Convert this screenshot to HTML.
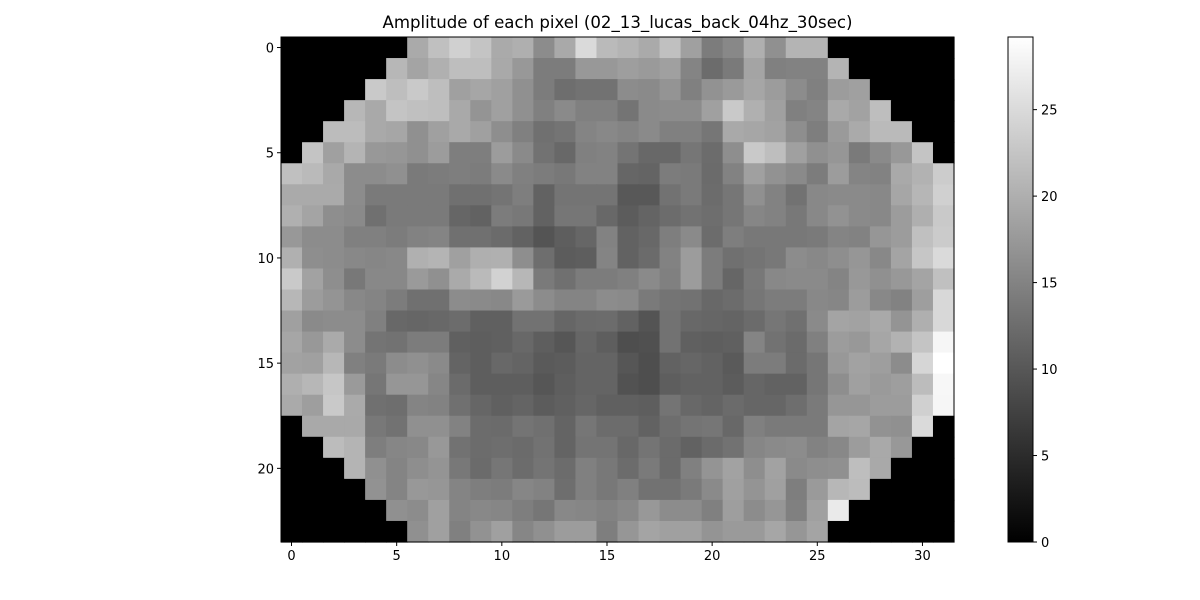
<!DOCTYPE html>
<html><head><meta charset="utf-8"><style>
html,body{margin:0;padding:0;background:#fff;width:1200px;height:600px;overflow:hidden}
svg text{font-family:"DejaVu Sans","Liberation Sans",sans-serif;fill:#000}
</style></head><body>
<svg id="chart" width="1200" height="600" xmlns="http://www.w3.org/2000/svg">
<text x="617.5" y="28" font-size="16.6" text-anchor="middle">Amplitude of each pixel (02_13_lucas_back_04hz_30sec)</text>
<g id="cells"></g>
<g id="axes"></g>
<g id="cbar"></g>
</svg>
<script>
const amplitudes = [
[0,0,0,0,0,0,19.5,22,23.8,22.5,19.5,20,16,19.3,25,21.3,20.6,19.5,22,18.3,14.2,15.6,20,16.5,20.6,20.6,0,0,0,0,0,0],
[0,0,0,0,0,21,18.8,20.2,21.8,21.8,19.3,17.4,14.2,14.2,17.4,17.4,18.1,17.6,18.3,15.1,12.4,14,18.8,14.7,14.9,14.9,20.6,0,0,0,0,0],
[0,0,0,0,23,21.8,23,21.8,18.3,19,18.3,16.5,14.2,12.6,13,13,16,15.8,17,14.7,16.7,17.6,19,17.9,16,14.7,17.9,18.3,0,0,0,0],
[0,0,0,21,19.3,22.5,22,21.8,19.3,17,18.3,16.5,14.7,15.8,14.7,14.7,13.3,15.8,16,16,18.3,23,20.2,18.3,14.7,15.1,19.3,18.6,21.8,0,0,0],
[0,0,21.5,21.5,19.3,19,16.5,18.3,19.3,18.3,16.3,14.7,12.8,13.3,15.1,15.6,15.1,15.8,14.7,14.7,13.5,19.3,19,18.6,16.3,14.4,17.6,19.5,21.3,21.3,0,0],
[0,22.5,18.3,20.6,17.4,17.2,16.5,17.9,14.4,14.4,17.9,15.8,13,11.9,14.7,14.9,13.3,11.9,11.9,13.5,12.4,16.3,23,21.8,18.3,16.5,17.2,14,15.8,17.4,22.5,0],
[22,21.3,19.3,16,16,16.5,14,14.2,14.4,14.2,15.8,14.7,14.2,13.7,14.9,14.9,11.7,11.5,14.2,14,12.2,14.9,18.3,16.7,15.8,14.2,17.9,15.1,14.9,19.3,20.4,23.4],
[19.5,19.5,19.5,16,14,14,14,14,12.8,12.8,13.3,14.4,11.2,13.3,13.3,13.3,10.1,10.1,13,14,12.4,13.5,16.5,14.9,13,15.6,15.8,15.8,15.6,19,20.8,23.8],
[20.2,18.8,16.3,15.8,12.8,14,14,14,11.7,11.2,14.2,13.7,11.2,13.5,13.5,11.9,10.5,11.5,12.4,13,12.6,13.5,15.4,14.9,13.7,15.6,16.7,15.8,15.6,17.9,20,23],
[17.4,16,16,14.7,14.7,14.2,14.9,15.1,12.8,12.8,12.2,11.2,9.6,10.8,11.7,14.9,11.2,11.9,14.4,15.8,12.4,14.4,13.7,13.7,13.7,14,15.1,14.9,17.2,17.9,22,23.2],
[20.2,16.3,16,15.6,15.4,15.6,20.2,20.6,18.3,20,20.2,16.3,12.6,10.5,10.8,15.1,11.2,12.2,14.9,17.9,14.2,12.8,13.3,13.7,16,15.6,16.3,17.2,15.6,18.8,22.7,25],
[23,18.6,16.3,13.7,15.6,15.6,17.6,16.5,19.5,21.3,24,21,14,12.8,14.2,14.2,14.7,15.8,14.7,17.9,14.2,11.7,13.7,15.6,15.8,15.8,15.1,17.4,16.5,17.4,18.8,22],
[21,17.9,17,15.6,15.1,14.2,12.8,12.8,16,15.8,15.6,17.6,16,15.1,15.1,16,15.8,14,13.3,13,11.9,12.4,13.5,14.2,14.2,15.6,15.4,17.9,15.6,14.9,18.1,24.7],
[18.3,15.8,16,16,14.7,11.9,11.7,11.9,12.4,11,11,13,13,11.7,12.2,12.4,11.2,9.6,13,11.9,11.7,11.5,12.2,13.5,12.8,15.8,18.8,18.6,19.3,17,20,24.7],
[19,17.4,19.5,16,13.3,13,14.2,14.2,11,10.8,11,11.9,10.8,9.8,11.7,10.8,8.9,9.2,13,11,10.8,11,15.1,13,12.2,14.7,17.9,17.4,19,20.4,22.5,28.2],
[18.6,18.3,21,14.7,14,16,16.5,15.8,11.5,10.8,11.9,11.5,10.3,10.5,11.5,11.5,9.8,8.9,11.2,11.7,11.2,10.3,14.2,14.2,12.2,13.5,17.4,18.6,18.1,16,24.5,29.2],
[20,21,22.7,17.6,13.5,17.2,17.2,15.4,12.2,10.8,10.8,10.8,9.8,10.8,11.5,11.5,9.4,8.9,10.8,11.2,11.2,10.5,11.7,11.2,11.2,13.5,16.3,18.3,17.6,18.1,21.5,28.3],
[19.5,18.1,23,19.5,12.8,12.6,15.1,14.9,12.8,11.7,11,11.5,10.5,11,11.7,11,11,10.8,13.3,11.9,11.5,12.2,11.7,11.7,12.6,14,17.2,17.2,17.9,17.9,23.8,28.2],
[0,19.3,19.3,19.3,13.7,13,16.5,16.5,14.9,12.4,12.2,13.3,12.8,11.5,13.5,12.4,12.4,11.2,12.6,13.3,13.5,11.9,14.7,14,14,14,18.8,19,16.7,16.5,25,0],
[0,0,21.5,20.6,14.4,15.4,15.6,17.4,13,12.4,12.6,12.2,13,11.5,13.3,13.3,11.9,13.3,12.2,11.2,12.2,13,15.4,15.8,16,14.9,15.6,17.9,19.3,17.4,0,0],
[0,0,0,20.6,16.5,15.1,16.3,17,13.7,12.2,13.5,12.4,13.3,12.4,14.7,13.7,12.4,14,12.2,14.7,17,18.6,16.3,18.6,15.8,16.3,16.5,21.8,19.3,0,0,0],
[0,0,0,0,16.7,15.1,17.4,17.2,15.1,14.4,14.2,15.4,14.9,12.6,14.7,13.7,14.7,13,13,14,15.8,18.3,17,18.3,14.4,17.6,21,21.5,0,0,0,0],
[0,0,0,0,0,16.5,16,18.3,15.1,15.6,15.4,14.4,13.5,15.6,15.4,14.9,15.6,17.4,16,16,14.7,18.1,16,17.2,14.7,18.3,26.8,0,0,0,0,0],
[0,0,0,0,0,0,16.5,18.3,14.7,16.7,18.3,15.4,16.5,17.9,17.9,14.4,17.2,18.8,18.3,18.3,17,17.6,17.6,19,17.2,18.8,0,0,0,0,0,0]
];
const xTickValues = [0,5,10,15,20,25,30];
const yTickValues = [0,5,10,15,20];
const cbarTickValues = [0,5,10,15,20,25];

const NS = "http://www.w3.org/2000/svg";
const X0 = 281, X1 = 954, Y0 = 37, Y1 = 542;
const nRows = amplitudes.length, nCols = amplitudes[0].length;
const cw = (X1 - X0) / nCols, ch = (Y1 - Y0) / nRows;
let vmax = 0;
amplitudes.forEach(r => r.forEach(v => { if (v > vmax) vmax = v; }));
const vmin = 0;
function xScale(c){ return X0 + c * cw; }
function yScale(r){ return Y0 + r * ch; }
function gray(v){ const g = Math.round(Math.max(0, Math.min(1, (v - vmin) / (vmax - vmin))) * 255); return `rgb(${g},${g},${g})`; }
function mk(tag, attrs, parent){ const e = document.createElementNS(NS, tag); for (const k in attrs) e.setAttribute(k, attrs[k]); parent.appendChild(e); return e; }

const cells = document.getElementById('cells');
amplitudes.forEach((row, r) => row.forEach((v, c) => {
  const x = xScale(c), y = yScale(r);
  const rect = mk('rect', {x: x, y: y, width: cw + 0.6, height: ch + 0.6, fill: gray(v)}, cells);
  
  
}));

const axes = document.getElementById('axes');
const frame = mk('rect', {x: X0, y: Y0, width: X1 - X0, height: Y1 - Y0, fill: 'none', stroke: '#000', 'stroke-width': 1}, axes);


xTickValues.forEach(v => {
  const x = xScale(v + 0.5);
  mk('line', {x1: x, x2: x, y1: Y1, y2: Y1 + 4, stroke: '#000'}, axes);
  const t = mk('text', {x: x, y: Y1 + 18, 'font-size': 13, 'text-anchor': 'middle'}, axes);
  t.textContent = v;
  
  
});
yTickValues.forEach(v => {
  const y = yScale(v + 0.5);
  mk('line', {x1: X0 - 4, x2: X0, y1: y, y2: y, stroke: '#000'}, axes);
  const t = mk('text', {x: X0 - 7, y: y + 5, 'font-size': 13, 'text-anchor': 'end'}, axes);
  t.textContent = v;
  
  
});

const cbar = document.getElementById('cbar');
const CX0 = 1008, CX1 = 1033;
const defs = mk('defs', {}, cbar);
const grad = mk('linearGradient', {id: 'cg', x1: 0, y1: 1, x2: 0, y2: 0}, defs);
mk('stop', {offset: '0', 'stop-color': '#000'}, grad);
mk('stop', {offset: '1', 'stop-color': '#fff'}, grad);
const cb = mk('rect', {x: CX0, y: Y0, width: CX1 - CX0, height: Y1 - Y0, fill: 'url(#cg)', stroke: '#000', 'stroke-width': 1}, cbar);


function cScale(v){ return Y1 - (v - vmin) / (vmax - vmin) * (Y1 - Y0); }
cbarTickValues.forEach(v => {
  const y = cScale(v);
  mk('line', {x1: CX1, x2: CX1 + 4, y1: y, y2: y, stroke: '#000'}, cbar);
  const t = mk('text', {x: CX1 + 8, y: y + 5, 'font-size': 13}, cbar);
  t.textContent = v;
  
  
});
</script>
</body></html>
